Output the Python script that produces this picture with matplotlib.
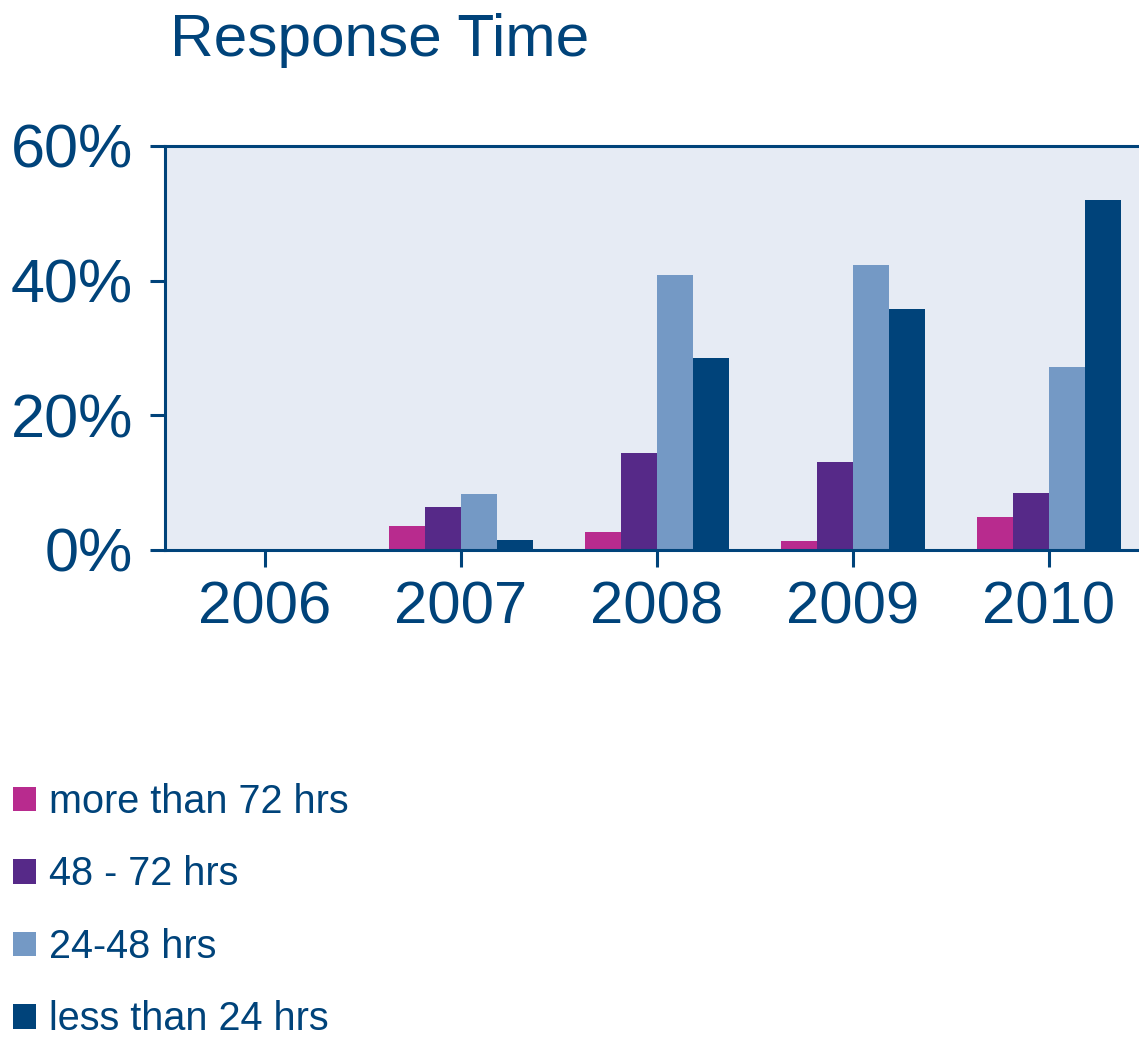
import matplotlib.pyplot as plt
import numpy as np
from matplotlib.patches import Patch
from matplotlib.ticker import FuncFormatter

plt.rcParams['font.family'] = ['Liberation Sans', 'DejaVu Sans']

years = ['2006', '2007', '2008', '2009', '2010']
series = ['more than 72 hrs', '48 - 72 hrs', '24-48 hrs', 'less than 24 hrs']
more_72 = [0, 3.6, 2.7, 1.3, 4.9]
hrs_48_72 = [0, 6.4, 14.4, 13.1, 8.5]
hrs_24_48 = [0, 8.3, 40.8, 42.3, 27.2]
less_24 = [0, 1.5, 28.5, 35.8, 52.0]
colors = ['#b82b8e', '#562988', '#7499c5', '#00437a']

text_color = '#00437a'
bg = '#e6ebf4'

fig = plt.figure(figsize=(11.39, 10.37), dpi=100)
ax = fig.add_axes([165 / 1139, 487 / 1037, 974 / 1139, 404 / 1037])
ax.set_facecolor(bg)

x = np.arange(len(years))
w = 0.184
values = [more_72, hrs_48_72, hrs_24_48, less_24]
for i, (vals, c, name) in enumerate(zip(values, colors, series)):
    ax.bar(x + (i - 1.5) * w, vals, w, color=c, label=name, linewidth=0)

ax.set_xlim(-0.51, 4.46)
ax.set_ylim(0, 60)
ax.set_yticks([0, 20, 40, 60])
ax.yaxis.set_major_formatter(FuncFormatter(lambda v, p: f'{v:.0f}%'))
ax.set_xticks(x)
ax.set_xticklabels(years)

for s in ['left', 'bottom', 'top']:
    ax.spines[s].set_color(text_color)
    ax.spines[s].set_linewidth(2.2)
ax.spines['right'].set_visible(False)

ax.tick_params(axis='y', direction='out', length=11, width=2.2, color=text_color,
               labelcolor=text_color, labelsize=44, pad=12)
ax.tick_params(axis='x', direction='out', length=12, width=2.2, color=text_color,
               labelcolor=text_color, labelsize=43, pad=10)

fig.text(170 / 1139, 981 / 1037, 'Response Time', fontsize=43.5, color=text_color,
         ha='left', va='baseline')

# legend stacked in the lower left, one swatch per row
handles = [Patch(facecolor=c, edgecolor='none') for c in colors]
leg = fig.legend(handles, series, loc='upper left', bbox_to_anchor=(13 / 1139, 254 / 1037),
                 frameon=False, fontsize=28.5, handlelength=0.58, handleheight=0.58,
                 handletextpad=0.33, labelspacing=0.87, borderaxespad=0, borderpad=0)
for t in leg.get_texts():
    t.set_color(text_color)

fig.savefig('out.png', dpi=100)
